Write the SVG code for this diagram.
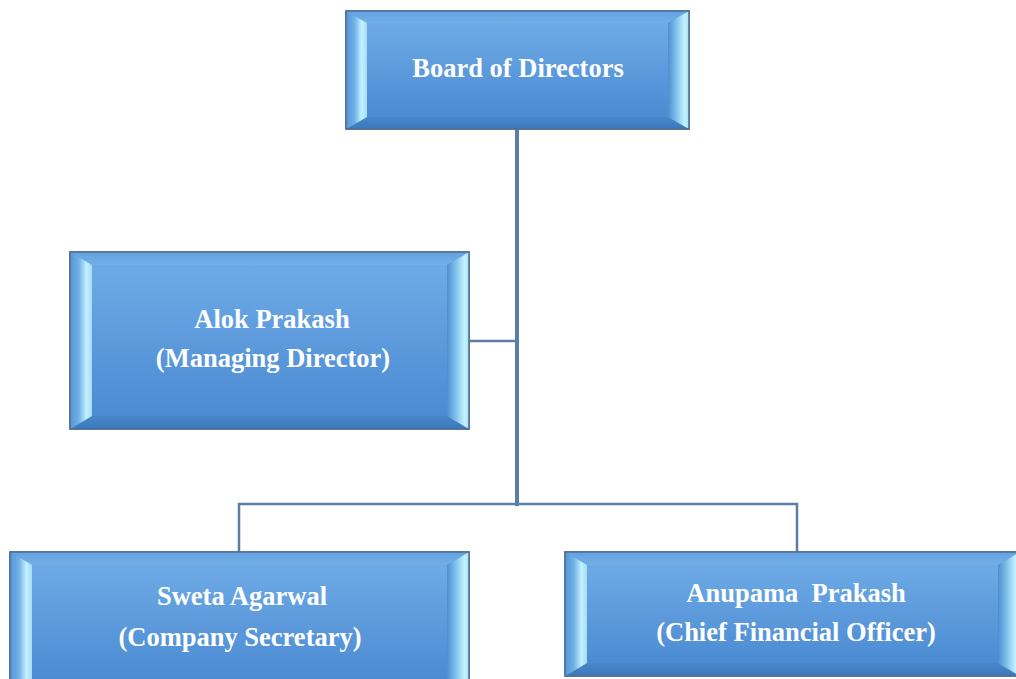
<svg xmlns="http://www.w3.org/2000/svg" width="1016" height="679" viewBox="0 0 1016 679">
<defs>
<linearGradient id="gFace" x1="0" y1="0" x2="0" y2="1">
<stop offset="0" stop-color="#6eaae6"/>
<stop offset="1" stop-color="#4b8bd2"/>
</linearGradient>
<linearGradient id="gLeft" x1="0" y1="0" x2="1" y2="0">
<stop offset="0" stop-color="#5796d6"/>
<stop offset="0.4" stop-color="#6eb0e6"/>
<stop offset="0.75" stop-color="#c4f1ff"/>
<stop offset="1" stop-color="#a4dcf4"/>
</linearGradient>
<linearGradient id="gRight" x1="0" y1="0" x2="1" y2="0">
<stop offset="0" stop-color="#4e8ed0"/>
<stop offset="0.45" stop-color="#86c8ee"/>
<stop offset="0.8" stop-color="#c6f2ff"/>
<stop offset="1" stop-color="#a6def4"/>
</linearGradient>
<linearGradient id="gTop" x1="0" y1="0" x2="0" y2="1">
<stop offset="0" stop-color="#64a2e0"/>
<stop offset="1" stop-color="#73aee8"/>
</linearGradient>
<linearGradient id="gBot" x1="0" y1="0" x2="0" y2="1">
<stop offset="0" stop-color="#4886cb"/>
<stop offset="1" stop-color="#3c78bb"/>
</linearGradient>
</defs>
<style>
.outer{fill:#5a9adb;stroke:#4f6f93;stroke-width:1.5}
.bt{fill:url(#gTop)}
.bb{fill:url(#gBot)}
.bl{fill:url(#gLeft)}
.br{fill:url(#gRight)}
.face{fill:url(#gFace)}
.lbl{font-family:"Liberation Serif","Times New Roman",serif;font-weight:bold;font-size:26.5px;fill:#ffffff;text-anchor:middle}
.conn{fill:none;stroke:#5a7ea6;stroke-linecap:square}
</style>
<rect width="1016" height="679" fill="#ffffff"/>

<g id="connectors">
<line class="conn" x1="517" y1="129" x2="517" y2="504" stroke-width="4"/>
<line class="conn" x1="469" y1="341" x2="517" y2="341" stroke-width="2.5"/>
<polyline class="conn" points="239,552 239,504 797,504 797,552" stroke-width="2.5"/>
</g>

<g id="board">
<rect class="outer" x="346" y="11" width="343" height="118"/>
<polygon class="bt" points="346,11 689,11 668,23 367,23"/>
<polygon class="bb" points="346,129 689,129 668,117 367,117"/>
<polygon class="bl" points="346,11 367,23 367,117 346,129"/>
<polygon class="br" points="689,11 668,23 668,117 689,129"/>
<rect class="face" x="367" y="23" width="301" height="94"/>
<rect x="346" y="11" width="343" height="118" fill="none" stroke="#4f6f93" stroke-width="1.5"/>
<text class="lbl" x="518" y="77">Board of Directors</text>
</g>

<g id="alok">
<rect class="outer" x="70" y="252" width="399" height="177"/>
<polygon class="bt" points="70,252 469,252 447,265 92,265"/>
<polygon class="bb" points="70,429 469,429 447,416 92,416"/>
<polygon class="bl" points="70,252 92,265 92,416 70,429"/>
<polygon class="br" points="469,252 447,265 447,416 469,429"/>
<rect class="face" x="92" y="265" width="355" height="151"/>
<rect x="70" y="252" width="399" height="177" fill="none" stroke="#4f6f93" stroke-width="1.5"/>
<text class="lbl" x="272" y="328">Alok Prakash</text>
<text class="lbl" x="273" y="367">(Managing Director)</text>
</g>

<g id="sweta">
<rect class="outer" x="10" y="552" width="459" height="140"/>
<polygon class="bt" points="10,552 469,552 447,565 32,565"/>
<polygon class="bl" points="10,552 32,565 32,679 10,692"/>
<polygon class="br" points="469,552 447,565 447,679 469,692"/>
<rect class="face" x="32" y="565" width="415" height="114"/>
<rect x="10" y="552" width="459" height="140" fill="none" stroke="#4f6f93" stroke-width="1.5"/>
<text class="lbl" x="242" y="605">Sweta Agarwal</text>
<text class="lbl" x="240" y="646">(Company Secretary)</text>
</g>

<g id="anupama">
<rect class="outer" x="565" y="552" width="455" height="124"/>
<polygon class="bt" points="565,552 1020,552 998,565 587,565"/>
<polygon class="bb" points="565,676 1020,676 998,663 587,663"/>
<polygon class="bl" points="565,552 587,565 587,663 565,676"/>
<polygon class="br" points="1020,552 998,565 998,663 1020,676"/>
<rect class="face" x="587" y="565" width="411" height="98"/>
<rect x="565" y="552" width="455" height="124" fill="none" stroke="#4f6f93" stroke-width="1.5"/>
<text class="lbl" x="796" y="602" xml:space="preserve">Anupama  Prakash</text>
<text class="lbl" x="796" y="641">(Chief Financial Officer)</text>
</g>
</svg>
